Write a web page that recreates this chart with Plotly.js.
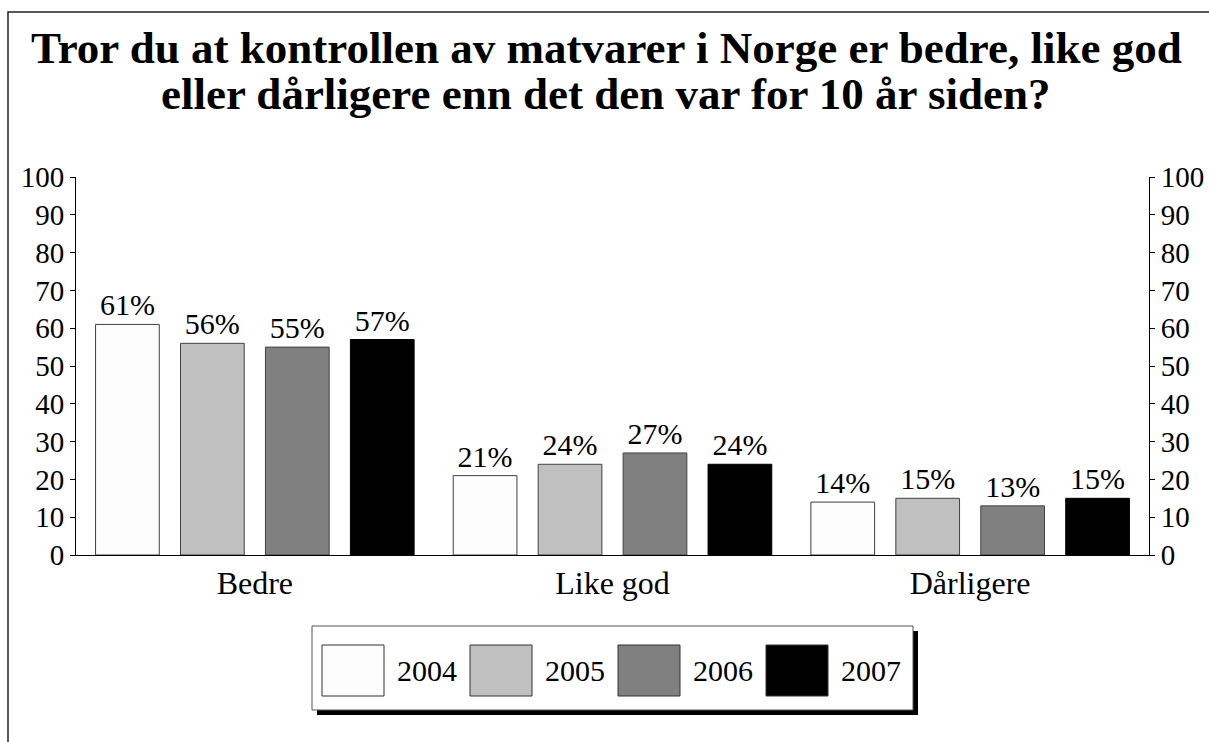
<!DOCTYPE html>
<html>
<head>
<meta charset="utf-8">
<script src="https://cdn.plot.ly/plotly-3.0.1.min.js"></script>
<style>
  html, body { margin: 0; padding: 0; background: #ffffff; }
  #chart { width: 1209px; height: 742px; }
</style>
</head>
<body>
<div id="chart"></div>
<script>
// ---- data ----
const categories = ["Bedre", "Like god", "Dårligere"];
const years = ["2004", "2005", "2006", "2007"];
const values2004 = [61, 21, 14];
const values2005 = [56, 24, 15];
const values2006 = [55, 27, 13];
const values2007 = [57, 24, 15];
const yTicks = [0, 10, 20, 30, 40, 50, 60, 70, 80, 90, 100];
const titleLine1 = "Tror du at kontrollen av matvarer i Norge er bedre, like god";
const titleLine2 = "eller dårligere enn det den var for 10 år siden?";

// ---- style ----
const series = [values2004, values2005, values2006, values2007];
const fills = ["#fcfcfc", "#c0c0c0", "#808080", "#000000"];
const outlines = ["#404040", "#404040", "#404040", "#000000"];
const FONT = "Liberation Serif, Times New Roman, serif";

const W = 1209, H = 742;
const L = 76, R = 1149, T = 177, B = 555;
const px = v => (v - L) / (R - L);
const py = v => (B - v) / (B - T);

const traces = series.map((vals, i) => ({
  type: "bar",
  name: years[i],
  x: categories,
  y: vals,
  marker: { color: fills[i], line: { color: outlines[i], width: 1 } },
  texttemplate: "%{y}%",
  textposition: "outside",
  textfont: { family: FONT, size: 30, color: "#000" },
  cliponaxis: false,
  showlegend: false,
  hoverinfo: "skip"
}));
// helper trace so the right-hand axis is drawn
traces.push({
  type: "scatter", mode: "markers", x: categories, y: [null, null, null],
  yaxis: "y2", showlegend: false, hoverinfo: "skip"
});

const shapes = [];
const annotations = [];

// outer frame
shapes.push({ type: "rect", xref: "paper", yref: "paper",
  x0: px(8), x1: px(W + 40), y0: py(H + 40), y1: py(12),
  line: { color: "#222", width: 1.5 }, fillcolor: "rgba(0,0,0,0)", layer: "below" });

// title lines
annotations.push({ xref: "paper", yref: "paper", x: px(606), y: py(48), xanchor: "center", yanchor: "middle",
  text: "<b>" + titleLine1 + "</b>", showarrow: false, font: { family: FONT, size: 45, color: "#000" } });
annotations.push({ xref: "paper", yref: "paper", x: px(606), y: py(94), xanchor: "center", yanchor: "middle",
  text: "<b>" + titleLine2 + "</b>", showarrow: false, font: { family: FONT, size: 45, color: "#000" } });

// legend box with shadow
shapes.push({ type: "rect", xref: "paper", yref: "paper",
  x0: px(317), x1: px(918), y0: py(715), y1: py(631),
  line: { width: 0 }, fillcolor: "#000" });
shapes.push({ type: "rect", xref: "paper", yref: "paper",
  x0: px(312), x1: px(913), y0: py(710), y1: py(626),
  line: { color: "#555", width: 1 }, fillcolor: "#fff" });
years.forEach((yr, i) => {
  const x0 = 322 + i * 148;
  shapes.push({ type: "rect", xref: "paper", yref: "paper",
    x0: px(x0), x1: px(x0 + 62), y0: py(696), y1: py(645),
    line: { color: "#333", width: 1 }, fillcolor: fills[i] });
  annotations.push({ xref: "paper", yref: "paper", x: px(x0 + 73), y: py(670),
    xanchor: "left", yanchor: "middle", text: yr, showarrow: false,
    font: { family: FONT, size: 30, color: "#000" } });
});

const axisY = {
  range: [0, 100], tickvals: yTicks, ticktext: yTicks.map(String),
  showgrid: false, zeroline: false, showline: true, linecolor: "#000", linewidth: 1,
  ticks: "outside", ticklen: 5, tickcolor: "#000", tickwidth: 1,
  tickfont: { family: FONT, size: 29, color: "#000" }, fixedrange: true
};

const layout = {
  width: W, height: H,
  margin: { l: L, r: W - R, t: T, b: H - B, pad: 0 },
  paper_bgcolor: "#fff", plot_bgcolor: "#fff",
  barmode: "group", bargap: 0.05, bargroupgap: 0.25,
  showlegend: false,
  font: { family: FONT, color: "#000" },
  xaxis: {
    type: "category", showgrid: false, zeroline: false,
    showline: true, linecolor: "#000", linewidth: 1, ticks: "",
    tickfont: { family: FONT, size: 32, color: "#000" }, fixedrange: true
  },
  yaxis: Object.assign({}, axisY, { side: "left" }),
  yaxis2: Object.assign({}, axisY, { side: "right", overlaying: "y" }),
  shapes: shapes,
  annotations: annotations,
  hovermode: false
};

Plotly.newPlot("chart", traces, layout, { staticPlot: true, displayModeBar: false });
</script>
</body>
</html>
